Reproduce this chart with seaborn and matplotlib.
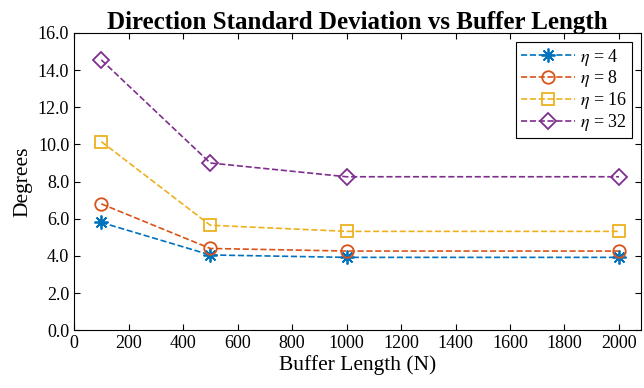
import matplotlib
matplotlib.use('Agg')
import matplotlib.pyplot as plt
import seaborn as sns
import pandas as pd

# dados
buffer_len = [100, 500, 1000, 2000]
eta_labels = [r'$\eta$ = 4', r'$\eta$ = 8', r'$\eta$ = 16', r'$\eta$ = 32']
std_eta4 = [5.8, 4.05, 3.92, 3.92]
std_eta8 = [6.8, 4.4, 4.26, 4.26]
std_eta16 = [10.15, 5.65, 5.32, 5.32]
std_eta32 = [14.55, 9.0, 8.26, 8.26]

cores = ['#0072BD', '#D95319', '#EDB120', '#7E2F8E']
marcadores = [(8, 2, 0), 'o', 's', 'D']
tamanhos = [10, 9, 8, 8]

sns.set_style('ticks')
plt.rcParams['font.family'] = ['Liberation Serif', 'DejaVu Serif']
plt.rcParams['mathtext.fontset'] = 'stix'
# texto preto como no MATLAB
for k in ['text.color', 'axes.labelcolor', 'xtick.color', 'ytick.color']:
    plt.rcParams[k] = 'black'

fig = plt.figure(figsize=(6.44, 3.88), dpi=100)
ax = fig.add_axes([0.115, 0.149, 0.88, 0.766])

series = [std_eta4, std_eta8, std_eta16, std_eta32]
for vals, lab, c, m, s in zip(series, eta_labels, cores, marcadores, tamanhos):
    df = pd.DataFrame({'N': buffer_len, 'deg': vals})
    sns.lineplot(data=df, x='N', y='deg', ax=ax, color=c, linestyle='--',
                 marker=m, markersize=s, markerfacecolor='none',
                 markeredgecolor=c, markeredgewidth=1.3, linewidth=1.2,
                 label=lab)

ax.set_xlim(0, 2080)
ax.set_ylim(0, 16)
ax.set_xticks(range(0, 2001, 200))
ax.set_yticks(range(0, 17, 2))
ax.set_yticklabels([f'{v:.1f}' for v in range(0, 17, 2)])
ax.tick_params(direction='in', top=True, right=True, labelsize=13, length=4, width=0.8)
for sp in ax.spines.values():
    sp.set_linewidth(0.8)
    sp.set_color('black')
ax.set_xlabel('Buffer Length (N)', fontsize=15.5, labelpad=2)
ax.set_ylabel('Degrees', fontsize=15.5, labelpad=4)
ax.set_title('Direction Standard Deviation vs Buffer Length', fontsize=18, fontweight='bold', pad=3)
leg = ax.legend(loc='upper right', fontsize=13, frameon=True, fancybox=False,
                edgecolor='black', framealpha=1, borderpad=0.25, labelspacing=0.05,
                handlelength=3, handletextpad=0.3, borderaxespad=0.5)
leg.get_frame().set_linewidth(0.8)

fig.savefig('out.png', dpi=100)
